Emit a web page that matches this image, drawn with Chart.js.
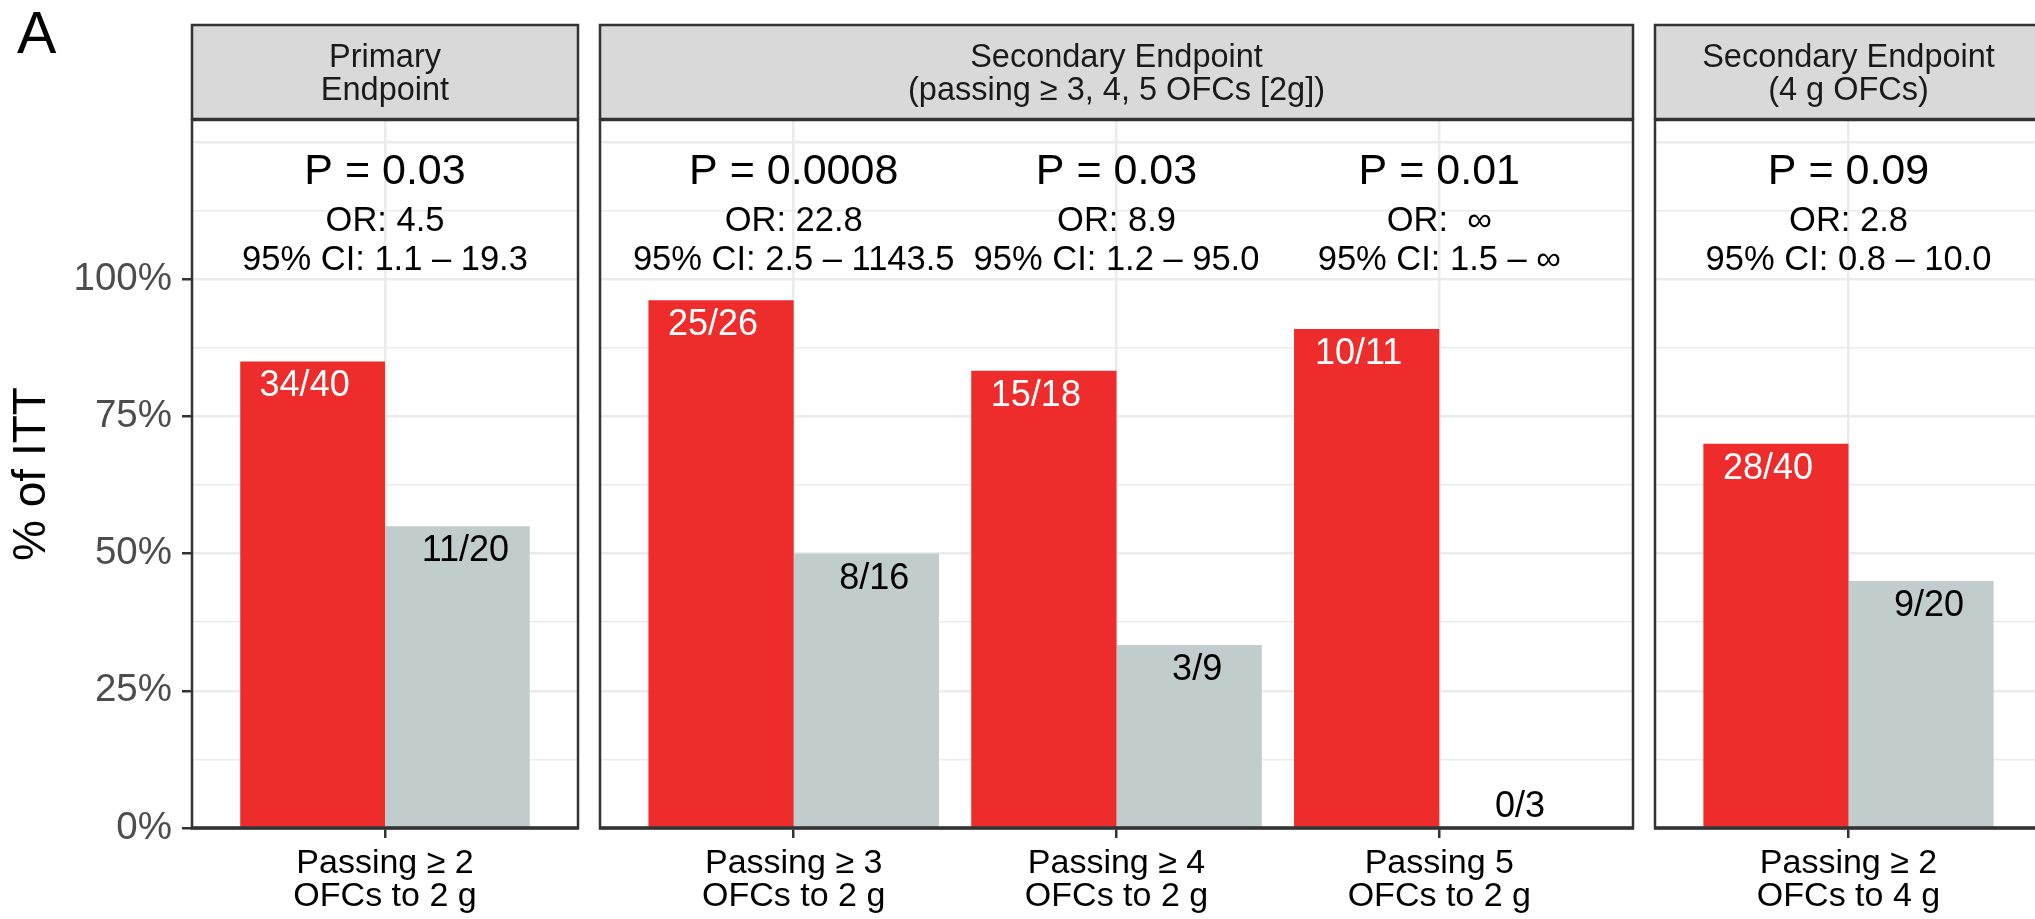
<!DOCTYPE html>
<html>
<head>
<meta charset="utf-8">
<script src="https://cdn.jsdelivr.net/npm/chart.js@4.4.0/dist/chart.umd.min.js"></script>
<style>
  html, body { margin: 0; padding: 0; background: #fff; overflow: hidden; }
  #wrap { position: relative; width: 2035px; height: 919px; overflow: hidden; }
  canvas { position: absolute; top: 0; }
</style>
</head>
<body>
<div id="wrap">
  <canvas id="p1" width="590" height="919" style="left:0px"></canvas>
  <canvas id="p2" width="1055" height="919" style="left:590px"></canvas>
  <canvas id="p3" width="410" height="919" style="left:1645px"></canvas>
</div>
<script>
const FONT = "'Liberation Sans', Arial, Helvetica, sans-serif";
const red = "#EE2C2C";
const grey = "#C1CDCD";

// data
const categories = [
  ["Passing ≥ 2", "OFCs to 2 g"],
  ["Passing ≥ 3", "OFCs to 2 g"],
  ["Passing ≥ 4", "OFCs to 2 g"],
  ["Passing 5", "OFCs to 2 g"],
  ["Passing ≥ 2", "OFCs to 4 g"]
];
const panelOf = [0, 1, 1, 1, 2];
const panelTitles = [
  ["Primary", "Endpoint"],
  ["Secondary Endpoint", "(passing ≥ 3, 4, 5 OFCs [2g])"],
  ["Secondary Endpoint", "(4 g OFCs)"]
];
const activePct = [85, 96.15, 83.33, 90.91, 70];
const placeboPct = [55, 50, 33.33, 0, 45];
const activeLabels = ["34/40", "25/26", "15/18", "10/11", "28/40"];
const placeboLabels = ["11/20", "8/16", "3/9", "0/3", "9/20"];
const pValues = ["P = 0.03", "P = 0.0008", "P = 0.03", "P = 0.01", "P = 0.09"];
const oddsRatios = ["OR: 4.5", "OR: 22.8", "OR: 8.9", "OR:  ∞", "OR: 2.8"];
const confInts = ["95% CI: 1.1 – 19.3", "95% CI: 2.5 – 1143.5", "95% CI: 1.2 – 95.0", "95% CI: 1.5 – ∞", "95% CI: 0.8 – 10.0"];
const yTicks = [0, 25, 50, 75, 100];

Chart.defaults.font.family = FONT;

// strip, border, text annotations
const facetPlugin = {
  id: "facet",
  afterDraw(chart, args, opts) {
    const ctx = chart.ctx, a = chart.chartArea;
    const x = chart.scales.x, y = chart.scales.y;
    const idx = opts.idx;
    ctx.save();
    ctx.textAlign = "center";
    ctx.textBaseline = "alphabetic";

    ctx.font = "36px " + FONT;
    [0, 1].forEach(d => {
      chart.getDatasetMeta(d).data.forEach((bar, i) => {
        const k = idx[i];
        const top = Math.min(bar.y, y.getPixelForValue(8.4));
        ctx.fillStyle = d === 0 ? "#FFFFFF" : "#000000";
        ctx.fillText(d === 0 ? activeLabels[k] : placeboLabels[k], bar.x + (d === 0 ? -8 : 8), top + 35);
      });
    });

    ctx.fillStyle = "#000";
    idx.forEach((k, i) => {
      const cx = x.getPixelForValue(i + 1);
      ctx.font = "43px " + FONT;
      ctx.fillText(pValues[k], cx, y.getPixelForValue(117.25));
      ctx.font = "34.5px " + FONT;
      ctx.fillText(oddsRatios[k], cx, y.getPixelForValue(108.8));
      ctx.fillText(confInts[k], cx, y.getPixelForValue(101.76));
    });

    ctx.strokeStyle = "#333333";
    ctx.lineWidth = 2.5;
    ctx.strokeRect(a.left, a.top, a.right - a.left, a.bottom - a.top);
    ctx.lineWidth = 3.5;
    ctx.beginPath();
    ctx.moveTo(a.left - 1, a.bottom);
    ctx.lineTo(a.right + 1, a.bottom);
    ctx.stroke();

    ctx.fillStyle = "#D9D9D9";
    ctx.fillRect(a.left, 25, a.right - a.left, 94);
    ctx.lineWidth = 2.5;
    ctx.strokeRect(a.left, 25, a.right - a.left, 94);
    ctx.fillStyle = "#1A1A1A";
    ctx.font = "32.5px " + FONT;
    panelTitles[opts.panel].forEach((line, j) => ctx.fillText(line, (a.left + a.right) / 2, 67 + 33 * j));

    if (opts.tag) {
      ctx.textAlign = "left";
      ctx.fillStyle = "#000";
      ctx.font = "59px " + FONT;
      ctx.fillText(opts.tag, 17, 53);
    }
    ctx.restore();
  }
};

function makePanel(id, p, padLeft, padRight, withAxis) {
  const idx = categories.map((c, i) => i).filter(i => panelOf[i] === p);
  const n = idx.length;
  const share = n === 1 ? 0.9 / 1.2 : 0.9;
  return new Chart(document.getElementById(id), {
    type: "bar",
    data: {
      labels: idx.map((k, i) => i + 1),
      datasets: [
        { data: idx.map(k => activePct[k]), backgroundColor: red, categoryPercentage: share, barPercentage: 1, borderWidth: 0 },
        { data: idx.map(k => placeboPct[k]), backgroundColor: grey, categoryPercentage: share, barPercentage: 1, borderWidth: 0 }
      ]
    },
    options: {
      responsive: false,
      animation: false,
      layout: { padding: { top: 120, left: padLeft, right: padRight, bottom: 0 } },
      plugins: {
        legend: { display: false },
        tooltip: { enabled: false },
        facet: { idx, panel: p, tag: withAxis ? "A" : null }
      },
      scales: {
        x: {
          type: "linear",
          offset: false,
          min: 0.4,
          max: n + 0.6,
          bounds: "data",
          afterBuildTicks: s => { s.ticks = idx.map((k, i) => ({ value: i + 1 })); },
          afterFit: s => { s.height = 91; },
          ticks: {
            callback: (v, i) => categories[idx[i]],
            font: { size: 34, lineHeight: 0.97 },
            color: "#000",
            padding: 9,
            autoSkip: false,
            maxRotation: 0
          },
          grid: { color: "#EBEBEB", lineWidth: 2.5, tickColor: "#333333", tickWidth: 2.5, tickLength: 10, offset: false },
          border: { display: false }
        },
        y: {
          min: 0,
          max: 129,
          bounds: "data",
          afterFit: s => { s.width = withAxis ? 192 : 0; },
          ticks: {
            stepSize: 12.5,
            includeBounds: false,
            autoSkip: false,
            display: withAxis,
            callback: v => yTicks.includes(v) ? v + "%" : "",
            font: { size: 38.5 },
            color: "#4D4D4D",
            padding: 10
          },
          grid: {
            color: "#EBEBEB",
            lineWidth: c => (c.tick && c.tick.value % 25 === 0) ? 2.5 : 1.5,
            drawTicks: withAxis,
            tickLength: 10,
            tickWidth: 2.5,
            tickColor: c => (c.tick && yTicks.includes(c.tick.value)) ? "#333333" : "rgba(0,0,0,0)"
          },
          border: { display: false },
          title: { display: withAxis, text: "% of ITT", font: { size: 46 }, color: "#000", padding: { top: 5, bottom: 0 } }
        }
      }
    },
    plugins: [facetPlugin]
  });
}

makePanel("p1", 0, 0, 12, true);
makePanel("p2", 1, 10, 12, false);
makePanel("p3", 2, 10, 13, false);
</script>
</body>
</html>
